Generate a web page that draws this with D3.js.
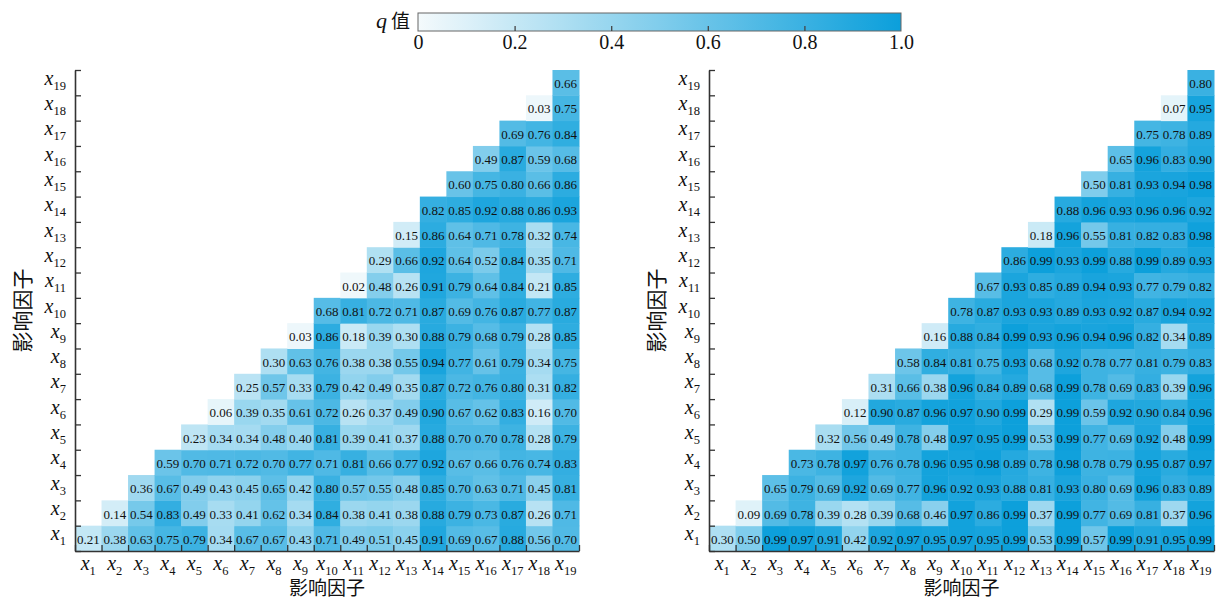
<!DOCTYPE html>
<html><head><meta charset="utf-8">
<script src="https://cdn.jsdelivr.net/npm/d3@7"></script>
<style>body{margin:0;background:#fff} svg{display:block}</style>
</head><body><svg id="chart" width="1216" height="599"></svg>
<script>
// factor indices x1..x19
const factorNums = [1,2,3,4,5,6,7,8,9,10,11,12,13,14,15,16,17,18,19];
const colorbarTicks = [0, 0.2, 0.4, 0.6, 0.8, 1.0];
const axisTitle = "影响因子";
const colorbarTitle = "值";

// leftQ[i] = row x(i+1), values for columns x(i+1) .. x19
const leftQ = [
  [0.21,0.38,0.63,0.75,0.79,0.34,0.67,0.67,0.43,0.71,0.49,0.51,0.45,0.91,0.69,0.67,0.88,0.56,0.70],
  [0.14,0.54,0.83,0.49,0.33,0.41,0.62,0.34,0.84,0.38,0.41,0.38,0.88,0.79,0.73,0.87,0.26,0.71],
  [0.36,0.67,0.49,0.43,0.45,0.65,0.42,0.80,0.57,0.55,0.48,0.85,0.70,0.63,0.71,0.45,0.81],
  [0.59,0.70,0.71,0.72,0.70,0.77,0.71,0.81,0.66,0.77,0.92,0.67,0.66,0.76,0.74,0.83],
  [0.23,0.34,0.34,0.48,0.40,0.81,0.39,0.41,0.37,0.88,0.70,0.70,0.78,0.28,0.79],
  [0.06,0.39,0.35,0.61,0.72,0.26,0.37,0.49,0.90,0.67,0.62,0.83,0.16,0.70],
  [0.25,0.57,0.33,0.79,0.42,0.49,0.35,0.87,0.72,0.76,0.80,0.31,0.82],
  [0.30,0.63,0.76,0.38,0.38,0.55,0.94,0.77,0.61,0.79,0.34,0.75],
  [0.03,0.86,0.18,0.39,0.30,0.88,0.79,0.68,0.79,0.28,0.85],
  [0.68,0.81,0.72,0.71,0.87,0.69,0.76,0.87,0.77,0.87],
  [0.02,0.48,0.26,0.91,0.79,0.64,0.84,0.21,0.85],
  [0.29,0.66,0.92,0.64,0.52,0.84,0.35,0.71],
  [0.15,0.86,0.64,0.71,0.78,0.32,0.74],
  [0.82,0.85,0.92,0.88,0.86,0.93],
  [0.60,0.75,0.80,0.66,0.86],
  [0.49,0.87,0.59,0.68],
  [0.69,0.76,0.84],
  [0.03,0.75],
  [0.66]
];

const rightQ = [
  [0.30,0.50,0.99,0.97,0.91,0.42,0.92,0.97,0.95,0.97,0.95,0.99,0.53,0.99,0.57,0.99,0.91,0.95,0.99],
  [0.09,0.69,0.78,0.39,0.28,0.39,0.68,0.46,0.97,0.86,0.99,0.37,0.99,0.77,0.69,0.81,0.37,0.96],
  [0.65,0.79,0.69,0.92,0.69,0.77,0.96,0.92,0.93,0.88,0.81,0.93,0.80,0.69,0.96,0.83,0.89],
  [0.73,0.78,0.97,0.76,0.78,0.96,0.95,0.98,0.89,0.78,0.98,0.78,0.79,0.95,0.87,0.97],
  [0.32,0.56,0.49,0.78,0.48,0.97,0.95,0.99,0.53,0.99,0.77,0.69,0.92,0.48,0.99],
  [0.12,0.90,0.87,0.96,0.97,0.90,0.99,0.29,0.99,0.59,0.92,0.90,0.84,0.96],
  [0.31,0.66,0.38,0.96,0.84,0.89,0.68,0.99,0.78,0.69,0.83,0.39,0.96],
  [0.58,0.84,0.81,0.75,0.93,0.68,0.92,0.78,0.77,0.81,0.79,0.83],
  [0.16,0.88,0.84,0.99,0.93,0.96,0.94,0.96,0.82,0.34,0.89],
  [0.78,0.87,0.93,0.93,0.89,0.93,0.92,0.87,0.94,0.92],
  [0.67,0.93,0.85,0.89,0.94,0.93,0.77,0.79,0.82],
  [0.86,0.99,0.93,0.99,0.88,0.99,0.89,0.93],
  [0.18,0.96,0.55,0.81,0.82,0.83,0.98],
  [0.88,0.96,0.93,0.96,0.96,0.92],
  [0.50,0.81,0.93,0.94,0.98],
  [0.65,0.96,0.83,0.90],
  [0.75,0.78,0.89],
  [0.07,0.95],
  [0.80]
];

const svg = d3.select("#chart");
const serif = "'Liberation Serif','Times New Roman',serif";
const cjk = "'Noto Sans CJK SC','Noto Sans CJK JP',sans-serif";
const axisColor = "#333";
const color = d3.scaleLinear().domain([0, 1]).range(["#f4fafc", "#0b9fdb"]).interpolate(d3.interpolateRgb);

const TOP = 70, BOTTOM = 551;

function panel(data, x0, x1) {
  const x = d3.scaleBand().domain(factorNums).range([x0, x1]);
  const y = d3.scaleBand().domain(factorNums.slice().reverse()).range([TOP, BOTTOM]);
  const g = svg.append("g");
  const cells = [];
  data.forEach((row, i) => row.forEach((v, k) => cells.push({ r: i + 1, c: i + 1 + k, v })));

  g.append("g").selectAll("rect").data(cells).join("rect")
    .attr("x", d => x(d.c)).attr("y", d => y(d.r))
    .attr("width", x.bandwidth() + 0.5).attr("height", y.bandwidth() + 0.5)
    .attr("fill", d => color(d.v));

  g.append("g").selectAll("text").data(cells).join("text")
    .attr("x", d => x(d.c) + x.bandwidth() / 2)
    .attr("y", d => y(d.r) + y.bandwidth() / 2 + 5.5)
    .attr("text-anchor", "middle")
    .style("font-family", serif).style("font-size", "13px")
    .attr("fill", "#111")
    .text(d => d.v.toFixed(2));

  // boundary scales for ticks
  const bounds = factorNums.map(n => n - 0.5).concat([19.5]);
  const xl = d3.scaleLinear().domain([0.5, 19.5]).range([x0, x1]);
  const yl = d3.scaleLinear().domain([0.5, 19.5]).range([BOTTOM, TOP]);

  const ax = g.append("g").attr("transform", `translate(0,${BOTTOM})`)
    .call(d3.axisBottom(xl).tickValues(bounds).tickSizeInner(-6).tickSizeOuter(0).tickFormat(""));
  const ay = g.append("g").attr("transform", `translate(${x0},0)`)
    .call(d3.axisLeft(yl).tickValues(bounds).tickSizeInner(-6).tickSizeOuter(0).tickFormat(""));
  [ax, ay].forEach(a => {
    a.select(".domain").attr("stroke", axisColor).attr("stroke-width", 1.6);
    a.selectAll(".tick line").attr("stroke", axisColor).attr("stroke-width", 1.3);
  });

  // x tick labels
  const xt = g.append("g").selectAll("text").data(factorNums).join("text")
    .attr("x", d => x(d) + x.bandwidth() / 2)
    .attr("y", 570)
    .attr("text-anchor", "middle")
    .style("font-family", serif).attr("fill", "#111");
  xt.append("tspan").style("font-style", "italic").style("font-size", "20px").text("x");
  xt.append("tspan").style("font-size", "12.5px").attr("dy", 5).text(d => d);

  // y tick labels
  const yt = g.append("g").selectAll("text").data(factorNums).join("text")
    .attr("x", x0 - 9)
    .attr("y", d => y(d) + y.bandwidth() / 2 + 2)
    .attr("text-anchor", "end")
    .style("font-family", serif).attr("fill", "#111");
  yt.append("tspan").style("font-style", "italic").style("font-size", "20px").text("x");
  yt.append("tspan").style("font-size", "12.5px").attr("dy", 5).text(d => d);

  // axis titles
  g.append("text").attr("x", (x0 + x1) / 2).attr("y", 595)
    .attr("text-anchor", "middle")
    .style("font-family", cjk).style("font-size", "19px").attr("fill", "#111")
    .text(axisTitle);
  g.append("text")
    .attr("transform", `translate(${x0 - 45},${(TOP + BOTTOM) / 2}) rotate(-90)`)
    .attr("text-anchor", "middle")
    .style("font-family", cjk).style("font-size", "21px").attr("fill", "#111")
    .text(axisTitle);
}

panel(leftQ, 75, 579);
panel(rightQ, 709, 1214);

// colorbar
const CB = { x0: 418, x1: 901, y0: 13, y1: 31 };
const cbScale = d3.scaleLinear().domain([0, 1]).range([CB.x0, CB.x1]);
const defs = svg.append("defs");
const grad = defs.append("linearGradient").attr("id", "cbgrad").attr("x1", "0%").attr("x2", "100%");
grad.selectAll("stop").data(d3.range(0, 1.0001, 0.05)).join("stop")
  .attr("offset", d => (d * 100) + "%").attr("stop-color", d => color(d));
svg.append("rect").attr("x", CB.x0).attr("y", CB.y0)
  .attr("width", CB.x1 - CB.x0).attr("height", CB.y1 - CB.y0)
  .attr("fill", "url(#cbgrad)").attr("stroke", "#666").attr("stroke-width", 1);
const cbAxis = svg.append("g").attr("transform", `translate(0,${CB.y1})`)
  .call(d3.axisBottom(cbScale).tickValues(colorbarTicks).tickSizeInner(0).tickSizeOuter(0).tickPadding(3)
    .tickFormat(d => d === 0 ? "0" : d3.format(".1f")(d)));
cbAxis.select(".domain").remove();
cbAxis.selectAll(".tick text").style("font-family", serif).style("font-size", "20px").attr("fill", "#111")
  .attr("dy", "0.9em").attr("y", 0);
cbAxis.selectAll(".tick").filter(d => d > 0 && d < 1).append("line")
  .attr("y1", 0).attr("y2", -5).attr("stroke", "#444").attr("stroke-width", 1.3);

const qt = svg.append("text").attr("x", 410).attr("y", 28).attr("text-anchor", "end").attr("fill", "#111");
qt.append("tspan").style("font-family", serif).style("font-style", "italic").style("font-size", "22px").text("q");
qt.append("tspan").attr("dx", 4).style("font-family", cjk).style("font-size", "19px").text(colorbarTitle);
</script>
</body></html>
